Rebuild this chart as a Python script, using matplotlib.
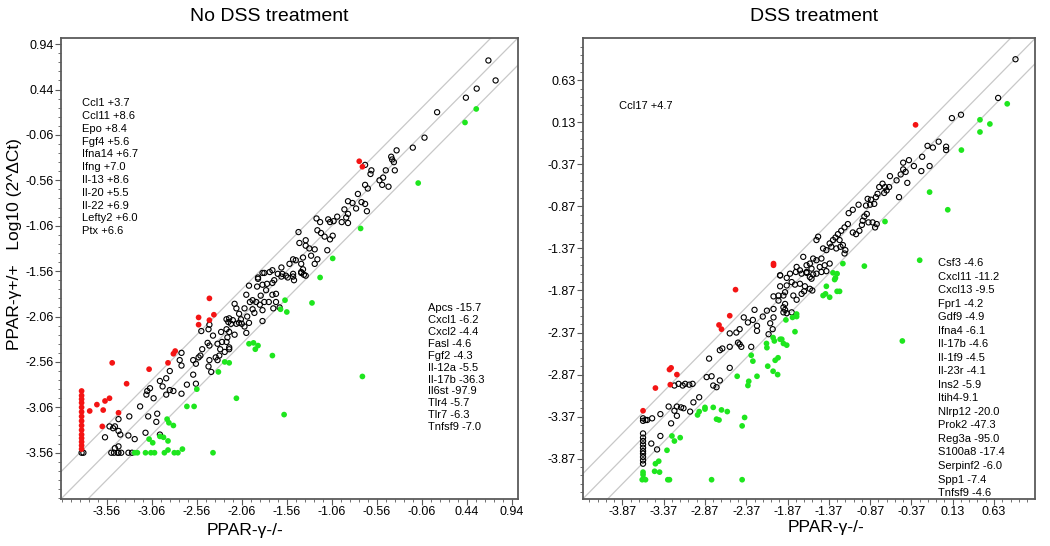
import numpy as np
import matplotlib
matplotlib.use('Agg')
import matplotlib.pyplot as plt
from matplotlib.ticker import FixedLocator

plt.rcParams['font.family'] = ['Liberation Sans', 'DejaVu Sans']

# ---------------- No DSS treatment ----------------
nodss_black = [
    (0.68, 0.76), (0.76, 0.54), (0.55, 0.45), (0.43, 0.35), (0.11, 0.19), (-0.03, -0.09),
    (-0.16, -0.20), (-0.34, -0.23), (-0.40, -0.30), (-0.39, -0.33), (-0.37, -0.36), (-0.36, -0.45),
    (-0.46, -0.45), (-0.53, -0.56), (-0.49, -0.53), (-0.50, -0.61), (-0.43, -0.63), (-0.63, -0.49),
    (-0.62, -0.45), (-0.69, -0.39), (-0.69, -0.61), (-0.66, -0.65), (-0.77, -0.71), (-0.73, -0.80),
    (-0.69, -0.82), (-0.67, -0.90), (-0.88, -0.79), (-0.83, -0.81), (-0.79, -0.87), (-0.92, -0.88),
    (-0.88, -0.93), (-0.90, -0.97), (-0.95, -1.02), (-0.88, -1.03), (-1.00, -0.96), (-1.04, -1.01),
    (-1.10, -0.99), (-1.08, -1.02), (-1.23, -0.98), (-1.19, -1.02), (-1.05, -1.17), (-1.08, -1.21),
    (-1.11, -1.33), (-1.22, -1.11), (-1.18, -1.14), (-1.14, -1.18), (-1.25, -1.32), (-1.31, -1.31),
    (-1.35, -1.22), (-1.35, -1.28), (-1.43, -1.13), (-1.42, -1.25), (-1.22, -1.43), (-1.25, -1.48),
    (-1.29, -1.39), (-1.38, -1.41), (-1.40, -1.48), (-1.49, -1.43), (-1.46, -1.44), (-1.53, -1.48),
    (-1.38, -1.54), (-1.35, -1.61), (-1.40, -1.57), (-1.49, -1.62), (-1.55, -1.63), (-1.62, -1.52),
    (-1.61, -1.59), (-1.72, -1.55), (-1.81, -1.58), (-1.88, -1.63),
    (-1.83, -1.58), (-1.75, -1.57), (-1.66, -1.59), (-1.62, -1.62), (-1.57, -1.61), (-1.49, -1.59),
    (-1.40, -1.58), (-1.37, -1.60), (-1.48, -1.66),
    (-1.88, -1.645), (-1.98, -1.72), (-1.89, -1.73), (-1.83, -1.71), (-1.78, -1.70), (-1.72, -1.69),
    (-1.70, -1.66), (-1.79, -1.77), (-1.72, -1.82), (-1.68, -1.81), (-1.85, -1.83), (-2.01, -1.82),
    (-1.94, -1.88), (-1.97, -1.90), (-1.90, -1.90), (-1.81, -1.90), (-1.76, -1.90), (-1.68, -1.90),
    (-1.64, -1.96), (-1.71, -1.97), (-1.86, -1.93), (-1.83, -1.99), (-1.94, -1.98), (-2.03, -1.97),
    (-2.00, -2.06), (-2.09, -2.03), (-2.14, -1.92), (-2.12, -1.97), (-1.83, -2.11), (-1.98, -2.13),
    (-1.92, -2.02), (-2.07, -2.09), (-2.06, -2.14), (-2.03, -2.17), (-2.01, -2.24), (-2.16, -2.10),
    (-2.12, -2.14), (-2.20, -2.08), (-2.23, -2.09), (-2.18, -2.14), (-2.09, -2.13), (-2.21, -2.12),
    (-2.29, -2.23), (-2.23, -2.20), (-2.20, -2.23), (-2.14, -2.26), (-2.22, -2.29), (-2.23, -2.34),
    (-2.20, -2.40), (-2.20, -2.42), (-2.28, -2.34), (-2.33, -2.36), (-2.30, -2.42), (-2.25, -2.45),
    (-2.31, -2.49), (-2.35, -2.51), (-2.33, -2.54), (-2.42, -2.15), (-2.43, -2.20), (-2.51, -2.22),
    (-2.38, -2.27), (-2.44, -2.35), (-2.42, -2.38), (-2.50, -2.42), (-2.52, -2.49), (-2.54, -2.51),
    (-2.60, -2.54), (-2.57, -2.58), (-2.42, -2.54), (-2.43, -2.61), (-2.40, -2.67), (-2.60, -2.70),
    (-2.73, -2.46), (-2.75, -2.54), (-2.73, -2.60), (-2.86, -2.66), (-2.97, -2.77), (-2.90, -2.74),
    (-2.94, -2.83), (-2.90, -2.92), (-2.86, -2.87), (-2.82, -2.88), (-2.73, -2.91), (-2.67, -2.81),
    (-3.08, -2.85), (-3.11, -2.88), (-3.12, -2.92), (-3.04, -2.96), (-3.19, -3.05), (-3.10, -3.16),
    (-3.00, -3.13), (-3.01, -3.22), (-2.97, -3.36), (-3.13, -3.34), (-3.31, -3.16), (-3.43, -3.19),
    (-3.58, -3.39), (-3.53, -3.27), (-3.49, -3.29), (-3.47, -3.27), (-3.43, -3.32), (-3.41, -3.36),
    (-3.43, -3.49), (-3.32, -3.37), (-3.25, -3.41), (-2.57, -2.80), (-3.47, -3.51), (-3.28, -3.56),
    (-3.84, -3.56), (-3.82, -3.56), (-3.51, -3.56), (-3.48, -3.56), (-3.44, -3.56), (-3.43, -3.56),
    (-3.40, -3.56), (-3.32, -3.56),
]
nodss_red = [
    (-3.84, -2.88), (-3.84, -2.93), (-3.84, -2.97), (-3.84, -3.01), (-3.84, -3.06), (-3.84, -3.11),
    (-3.84, -3.16), (-3.84, -3.21), (-3.84, -3.26), (-3.84, -3.31), (-3.84, -3.36), (-3.84, -3.40),
    (-3.84, -3.44), (-3.84, -3.48), (-3.84, -3.52),
    (-3.75, -3.10), (-3.67, -3.03), (-3.60, -3.09), (-3.58, -2.99), (-3.53, -2.96), (-3.61, -3.27),
    (-3.50, -2.57), (-3.34, -2.80), (-3.43, -3.12), (-3.09, -2.64), (-2.88, -2.57), (-2.82, -2.47),
    (-2.80, -2.44), (-2.42, -1.86), (-2.54, -2.07), (-2.54, -2.15), (-2.37, -2.04), (-2.42, -2.10),
    (-0.755, -0.35), (-0.72, -0.41),
]
nodss_green = [
    (0.545, 0.226), (0.42, 0.077), (-0.10, -0.59), (-0.74, -1.09), (-1.05, -1.42), (-1.19, -1.63),
    (-1.58, -1.88), (-1.28, -1.91), (-1.63, -1.98), (-1.56, -2.01), (-1.98, -2.36), (-1.93, -2.35),
    (-1.88, -2.38), (-1.91, -2.42), (-1.72, -2.49), (-2.25, -2.56), (-2.20, -2.57), (-2.32, -2.67),
    (-0.72, -2.72), (-2.56, -2.86), (-2.12, -2.96), (-2.67, -3.05), (-2.59, -3.05), (-1.59, -3.14),
    (-2.89, -3.19), (-2.87, -3.23), (-2.82, -3.26), (-3.09, -3.41), (-3.05, -3.45), (-2.97, -3.38),
    (-2.93, -3.39), (-2.88, -3.43), (-2.72, -3.52), (-2.88, -3.53), (-3.25, -3.56), (-3.22, -3.56),
    (-3.13, -3.56), (-3.07, -3.56), (-3.03, -3.56), (-2.92, -3.56), (-2.81, -3.56), (-2.77, -3.56),
    (-2.38, -3.56),
]
nodss_up = ['Ccl1 +3.7', 'Ccl11 +8.6', 'Epo +8.4', 'Fgf4 +5.6', 'Ifna14 +6.7', 'Ifng +7.0',
            'Il-13 +8.6', 'Il-20 +5.5', 'Il-22 +6.9', 'Lefty2 +6.0', 'Ptx +6.6']
nodss_down = ['Apcs -15.7', 'Cxcl1 -6.2', 'Cxcl2 -4.4', 'Fasl -4.6', 'Fgf2 -4.3', 'Il-12a -5.5',
              'Il-17b -36.3', 'Il6st -97.9', 'Tlr4 -5.7', 'Tlr7 -6.3', 'Tnfsf9 -7.0']

# ---------------- DSS treatment ----------------
dss_black = [
    (0.89, 0.88), (0.68, 0.42), (0.12, 0.18), (0.23, 0.22), (-0.04, -0.10), (-0.175, -0.15),
    (-0.11, -0.17), (0.05, -0.16), (0.05, -0.20), (-0.24, -0.28), (-0.15, -0.39), (-0.25, -0.45),
    (-0.40, -0.32), (-0.47, -0.35), (-0.34, -0.39), (-0.47, -0.43), (-0.44, -0.46), (-0.50, -0.49),
    (-0.42, -0.59), (-0.52, -0.76), (-0.55, -0.56), (-0.63, -0.51), (-0.72, -0.60), (-0.76, -0.64),
    (-0.80, -0.76), (-0.69, -0.64), (-0.64, -0.64), (-0.70, -0.71), (-0.67, -0.68), (-0.78, -0.72),
    (-0.90, -0.78), (-0.86, -0.79), (-0.82, -0.84), (-0.92, -0.86), (-0.87, -0.85), (-1.01, -0.85),
    (-1.08, -0.91), (-1.13, -0.95), (-0.91, -0.96), (-0.94, -0.99), (-0.96, -1.04), (-0.89, -1.06),
    (-0.84, -1.06), (-0.79, -1.08), (-0.81, -1.12), (-0.97, -1.09), (-1.00, -1.16), (-1.08, -1.18),
    (-1.04, -1.20), (-1.14, -1.08), (-1.18, -1.12), (-1.22, -1.16), (-1.26, -1.20), (-1.29, -1.24),
    (-1.32, -1.27), (-1.36, -1.31), (-1.24, -1.27), (-1.20, -1.33), (-1.17, -1.39), (-1.18, -1.43),
    (-1.23, -1.35), (-1.28, -1.37), (-1.34, -1.35), (-1.40, -1.39), (-1.44, -1.37), (-1.52, -1.27),
    (-1.50, -1.23), (-1.46, -1.49), (-1.52, -1.51), (-1.56, -1.49), (-1.60, -1.55), (-1.68, -1.47),
    (-1.64, -1.57), (-1.76, -1.59), (-1.72, -1.63), (-1.64, -1.65), (-1.58, -1.61), (-1.48, -1.59),
    (-1.42, -1.57), (-1.36, -1.55), (-1.52, -1.67), (-1.58, -1.73), (-1.96, -1.69), (-1.84, -1.67),
    (-1.96, -1.69), (-1.88, -1.72), (-1.77, -1.65), (-1.70, -1.67), (-1.64, -1.66), (-1.60, -1.71),
    (-1.56, -1.68), (-1.46, -1.65), (-1.40, -1.64), (-1.82, -1.77), (-1.78, -1.80), (-1.72, -1.79),
    (-1.66, -1.82), (-1.60, -1.85), (-1.57, -1.87), (-1.88, -1.81), (-1.96, -1.82), (-1.98, -1.93),
    (-2.04, -1.94), (-1.92, -1.93), (-1.90, -1.89), (-1.80, -1.93), (-1.76, -1.98), (-1.70, -1.91),
    (-1.67, -1.88), (-1.98, -1.99), (-1.90, -2.03), (-1.90, -2.10), (-1.92, -2.13), (-1.88, -2.14),
    (-1.82, -2.13), (-2.04, -2.09), (-2.12, -2.11), (-2.17, -2.18), (-2.08, -2.26), (-2.10, -2.39),
    (-2.05, -2.33), (-2.04, -2.19), (-1.92, -2.07), (-2.27, -2.10), (-2.29, -2.22), (-2.35, -2.25),
    (-2.24, -2.29), (-2.24, -2.35), (-2.40, -2.19), (-2.45, -2.33), (-2.49, -2.37), (-2.47, -2.49),
    (-2.45, -2.51), (-2.43, -2.54), (-2.31, -2.54), (-2.57, -2.38), (-2.57, -2.54), (-2.69, -2.58),
    (-2.66, -2.56), (-2.57, -2.79), (-2.69, -2.94), (-2.73, -3.02), (-2.77, -3.00), (-2.85, -2.90),
    (-2.79, -2.89), (-2.82, -2.68), (-3.11, -2.98), (-3.06, -2.99), (-3.02, -2.98), (-3.14, -3.00),
    (-3.19, -2.98), (-3.24, -3.00), (-2.94, -3.14), (-3.01, -3.20), (-3.05, -3.31), (-3.13, -3.27),
    (-3.16, -3.26), (-3.21, -3.25), (-3.24, -3.30), (-3.31, -3.25), (-3.21, -3.36), (-3.28, -3.45),
    (-3.41, -3.34), (-3.41, -3.60), (-3.45, -3.76), (-3.52, -3.69), (-3.51, -3.39), (-3.57, -3.41),
    (-3.62, -3.39), (-3.59, -3.41), (-3.62, -3.42), (-3.62, -3.57), (-3.62, -3.62), (-3.62, -3.66),
    (-3.62, -3.70), (-3.62, -3.74), (-3.62, -3.78), (-3.62, -3.81), (-3.62, -3.85), (-3.62, -3.89),
    (-3.62, -3.93),
]
dss_red = [
    (-0.32, 0.10), (-2.04, -1.55), (-2.04, -1.57), (-2.50, -1.86), (-2.57, -2.17), (-2.70, -2.28),
    (-2.67, -2.33), (-3.30, -2.81), (-3.28, -2.79), (-3.21, -2.87), (-3.29, -2.99), (-3.47, -3.03),
    (-3.62, -3.30),
]
dss_green = [
    (0.79, 0.35), (0.46, 0.16), (0.58, 0.11), (0.46, 0.015), (0.235, -0.20), (-0.15, -0.70),
    (0.07, -0.91), (-0.69, -1.05), (-0.27, -1.51), (-0.94, -1.58), (-1.20, -1.55), (-1.32, -1.66),
    (-1.27, -1.67), (-1.29, -1.72), (-1.30, -1.74), (-1.40, -1.82), (-1.44, -1.93), (-1.41, -1.91),
    (-1.36, -1.95), (-1.27, -1.88), (-1.24, -1.88), (-0.48, -2.47), (-1.76, -2.15), (-1.81, -2.19),
    (-1.76, -2.18), (-1.89, -2.22), (-1.78, -2.36), (-2.045, -2.43), (-2.03, -2.47), (-1.96, -2.45),
    (-1.94, -2.45), (-1.92, -2.50), (-1.88, -2.52), (-2.125, -2.50), (-2.12, -2.55), (-2.31, -2.64),
    (-2.29, -2.71), (-1.985, -2.67), (-2.02, -2.70), (-2.11, -2.77), (-2.045, -2.83), (-1.99, -2.87),
    (-2.24, -2.89), (-2.48, -2.89), (-2.34, -2.95), (-2.35, -3.00), (-2.96, -3.35), (-2.94, -3.31),
    (-2.87, -3.26), (-2.87, -3.28), (-2.77, -3.26), (-2.73, -3.40), (-2.70, -3.41), (-2.67, -3.29),
    (-2.60, -3.31), (-2.39, -3.38), (-2.42, -3.48), (-3.27, -3.60), (-3.24, -3.66), (-3.17, -3.62),
    (-3.33, -3.77), (-3.47, -3.93), (-3.43, -3.90), (-3.48, -4.02), (-3.42, -4.03), (-3.62, -4.03),
    (-3.62, -4.06), (-3.61, -4.11), (-3.59, -4.12), (-3.63, -4.12), (-3.32, -4.12), (-3.30, -4.12),
    (-2.79, -4.12), (-2.42, -4.12),
]
dss_up = ['Ccl17 +4.7']
dss_down = ['Csf3 -4.6', 'Cxcl11 -11.2', 'Cxcl13 -9.5', 'Fpr1 -4.2', 'Gdf9 -4.9', 'Ifna4 -6.1',
            'Il-17b -4.6', 'Il-1f9 -4.5', 'Il-23r -4.1', 'Ins2 -5.9', 'Itih4-9.1', 'Nlrp12 -20.0',
            'Prok2 -47.3', 'Reg3a -95.0', 'S100a8 -17.4', 'Serpinf2 -6.0', 'Spp1 -7.4', 'Tnfsf9 -4.6']

RED = '#f41414'
GREEN = '#1ee61e'
SPINE = '#5a5a5a'


def draw_panel(ax, black, red, green, lo, hi, first_tick):
    d = np.array([lo, hi])
    for c in (0.3, 0.0, -0.3):
        ax.plot(d, d + c, color='#c8c8c8', lw=0.9, zorder=1)
    b = np.array(black)
    ax.scatter(b[:, 0], b[:, 1], s=14, facecolors='none', edgecolors='black',
               linewidths=0.8, zorder=3)
    r = np.array(red)
    ax.scatter(r[:, 0], r[:, 1], s=17, color=RED, edgecolors='none', zorder=4)
    g = np.array(green)
    ax.scatter(g[:, 0], g[:, 1], s=17, color=GREEN, edgecolors='none', zorder=4)
    ax.set_xlim(lo, hi)
    ax.set_ylim(lo, hi)
    major = np.arange(first_tick, hi, 0.5)
    minor = np.arange(first_tick - 0.5, hi, 0.1)
    for axis in (ax.xaxis, ax.yaxis):
        axis.set_major_locator(FixedLocator(major))
        axis.set_minor_locator(FixedLocator(minor))
    ax.set_xticklabels(['%.2f' % v for v in major])
    ax.set_yticklabels(['%.2f' % v for v in major])
    ax.tick_params(which='major', direction='out', length=4, width=0.8, color=SPINE,
                   labelsize=9, pad=1)
    ax.tick_params(which='minor', direction='out', length=2, width=0.6, color=SPINE)
    for s in ax.spines.values():
        s.set_color(SPINE)
        s.set_linewidth(1.3)


fig = plt.figure(figsize=(10.5, 5.46), dpi=100)
ax1 = fig.add_axes([0.058, 0.086, 0.435, 0.844])
ax2 = fig.add_axes([0.555, 0.086, 0.431, 0.844])

draw_panel(ax1, nodss_black, nodss_red, nodss_green, -4.07, 1.005, -3.56)
draw_panel(ax2, dss_black, dss_red, dss_green, -4.35, 1.13, -3.87)

for i, t in enumerate(nodss_up):
    ax1.text(0.046, 0.859 - i * 0.0278, t, transform=ax1.transAxes, fontsize=8, va='center')
for i, t in enumerate(nodss_down):
    ax1.text(0.803, 0.414 - i * 0.0258, t, transform=ax1.transAxes, fontsize=8, va='center')
for i, t in enumerate(dss_up):
    ax2.text(0.079, 0.8525 - i * 0.0278, t, transform=ax2.transAxes, fontsize=8, va='center')
for i, t in enumerate(dss_down):
    ax2.text(0.786, 0.512 - i * 0.02935, t, transform=ax2.transAxes, fontsize=8, va='center')

fig.text(0.256, 0.97, 'No DSS treatment', fontsize=14, ha='center', va='center')
fig.text(0.775, 0.97, 'DSS treatment', fontsize=14, ha='center', va='center')
fig.text(0.233, 0.029, 'PPAR-γ-/-', fontsize=12.5, ha='center', va='center')
fig.text(0.787, 0.033, 'PPAR-γ-/-', fontsize=12.5, ha='center', va='center')
fig.text(0.014, 1 - 244 / 546, 'PPAR-γ+/+   Log10 (2^ΔCt)', fontsize=12.5, rotation=90,
         ha='center', va='center')

fig.savefig('out.png', dpi=100)
